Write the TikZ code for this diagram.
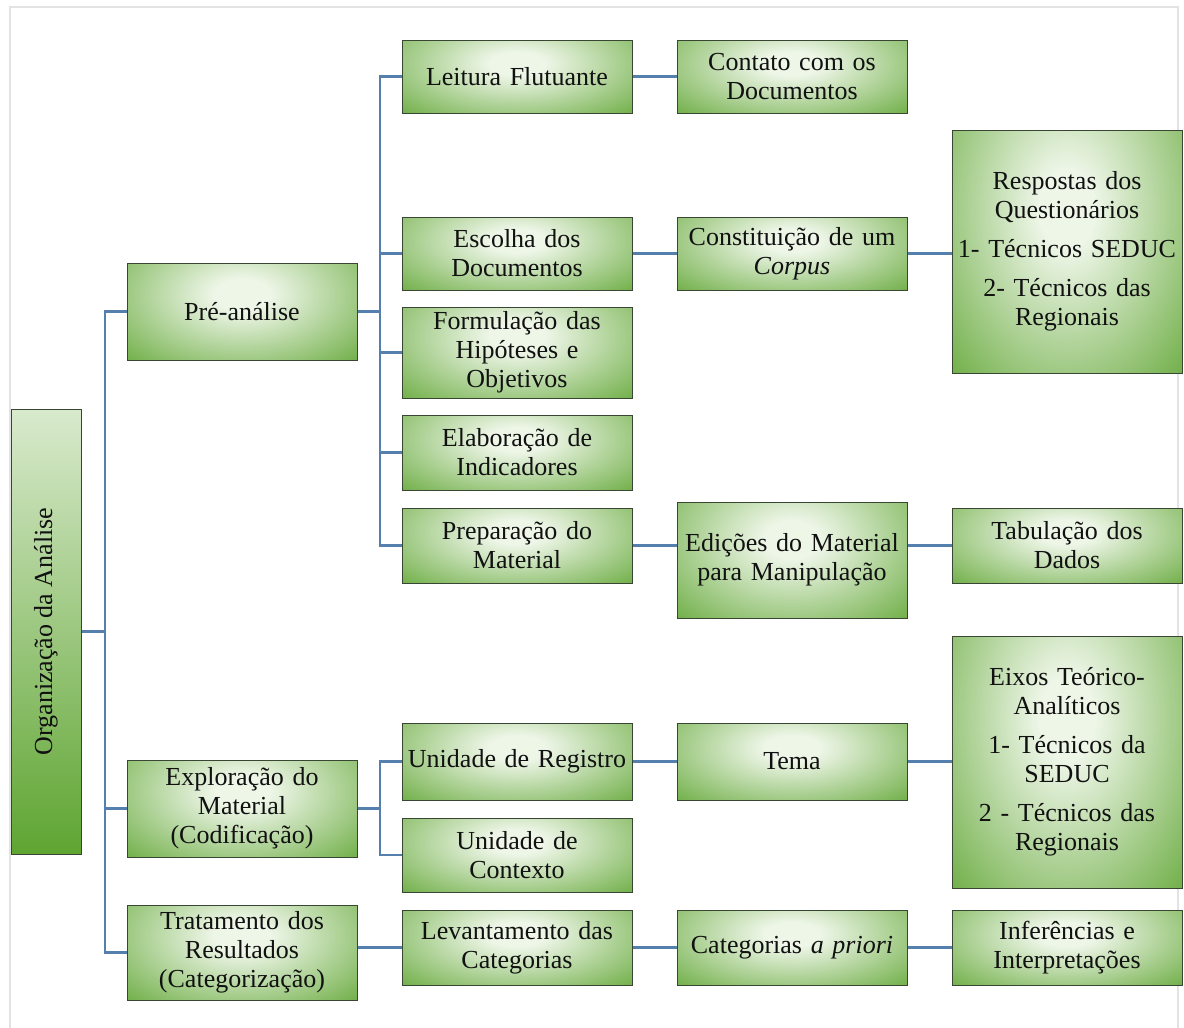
\documentclass[tikz,border=0pt]{standalone}
\usepackage{fontspec}
\setmainfont{Liberation Serif}
\usetikzlibrary{positioning, calc}
\definecolor{leaf}{HTML}{5FA532}
\definecolor{glow}{HTML}{EEF6E8}
\definecolor{rim}{HTML}{3A4634}
\definecolor{wire}{HTML}{5580AE}
\definecolor{ink}{HTML}{111111}
\pgfdeclareradialshading{boxglow}{\pgfpoint{0bp}{0bp}}{color(0bp)=(glow); color(6bp)=(glow); color(40bp)=(leaf); color(50bp)=(leaf)}

\begin{document}
\begin{tikzpicture}[x=0.5pt, y=-0.5pt,
		box/.style={draw=rim, line width=0.5pt, fill=leaf, text=ink, align=center,
			font=\fontsize{13}{14.5}\selectfont, inner sep=1pt, minimum width=115pt, text width=112pt,
			path picture={\shade[shading=boxglow] (path picture bounding box.south west) rectangle
				($(path picture bounding box.south east)!1.35!(path picture bounding box.north east)$);}},
		link/.style={draw=wire, line width=1.1pt}]
	\useasboundingbox (0,0) rectangle (1184,1028);
	\draw[gray!22, line width=1.3pt] (10,1028) -- (10,7) -- (1178,7) -- (1178,1028);

	\node[draw=rim, line width=0.5pt, top color=glow!85!leaf, bottom color=leaf, text=ink,
		minimum width=35pt, minimum height=222.5pt, inner sep=0pt, font=\fontsize{13}{14.5}\selectfont]
		(root) at (46,631.5) {\rotatebox{90}{Organização da Análise}};

	\node[box, minimum height=48.5pt] (pre) at (242,311.5) {Pré-análise};
	\node[box, minimum height=48.5pt] (expl) at (242,808.5) {Exploração do\\Material\\(Codificação)};
	\node[box, minimum height=47.5pt] (trat) at (242,952.5) {Tratamento dos\\Resultados\\(Categorização)};

	\node[box, minimum height=36.5pt] (leit) at (517,76.5) {Leitura Flutuante};
	\node[box, minimum height=36.5pt] (esc) at (517,253.5) {Escolha dos\\Documentos};
	\node[box, minimum height=45.5pt] (form) at (517,352.5) {Formulação das\\Hipóteses e\\Objetivos};
	\node[box, minimum height=37.5pt] (elab) at (517,452.5) {Elaboração de\\Indicadores};
	\node[box, minimum height=37.5pt] (prep) at (517,545.5) {Preparação do\\Material};
	\node[box, minimum height=38.5pt] (ureg) at (517,761.5) {Unidade de Registro};
	\node[box, minimum height=37pt] (ucon) at (517,855) {Unidade de\\Contexto};
	\node[box, minimum height=37.5pt] (lev) at (517,947.5) {Levantamento das\\Categorias};

	\node[box, minimum height=36.5pt] (cont) at (792,76.5) {Contato com os\\Documentos};
	\node[box, minimum height=36.5pt] (const) at (792,253.5) {Constituição de um\\\textit{Corpus}};
	\node[box, minimum height=58pt] (edic) at (792,560) {Edições do Material\\para Manipulação};
	\node[box, minimum height=38.5pt] (tema) at (792,761.5) {Tema};
	\node[box, minimum height=37.5pt] (cat) at (792,947.5) {Categorias \textit{a priori}};

	\node[box, minimum height=121.5pt] (resp) at (1067,251.5) {Respostas dos\\Questionários\\[5pt]1- Técnicos SEDUC\\[5pt]2- Técnicos das\\Regionais};
	\node[box, minimum height=37.5pt] (tab) at (1067,545.5) {Tabulação dos\\Dados};
	\node[box, minimum height=126pt] (eixos) at (1067,762) {Eixos Teórico-\\Analíticos\\[5pt]1- Técnicos da\\SEDUC\\[5pt]2 - Técnicos das\\Regionais};
	\node[box, minimum height=37.5pt] (inf) at (1067,947.5) {Inferências e\\Interpretações};

	\coordinate (b1) at (105,631.5);
	\coordinate (b2) at (380,311.5);
	\coordinate (b3) at (380,808.5);

	\draw[link] (root.east) -- (b1);
	\draw[link] (pre.west) -| (b1) |- (trat.west);
	\draw[link] (expl.west) -- (expl.west -| b1);

	\draw[link] (pre.east) -- (b2);
	\draw[link] (leit.west) -| (b2) |- (prep.west);
	\foreach \n in {esc, form, elab}
		\draw[link] (\n.west) -- (\n.west -| b2);

	\draw[link] (expl.east) -- (b3);
	\draw[link] (ureg.west) -| (b3) |- (ucon.west);
	\draw[link] (lev.west -| trat.east) -- (lev.west);

	\draw[link] (leit.east) -- (cont.west);
	\draw[link] (esc.east) -- (const.west);
	\draw[link] (const.east) -- (const.east -| resp.west);
	\draw[link] (prep.east) -- (prep.east -| edic.west);
	\draw[link] (prep.east -| edic.east) -- (tab.west);
	\draw[link] (ureg.east) -- (tema.west);
	\draw[link] (tema.east) -- (tema.east -| eixos.west);
	\draw[link] (lev.east) -- (cat.west);
	\draw[link] (cat.east) -- (inf.west);
\end{tikzpicture}
\end{document}
